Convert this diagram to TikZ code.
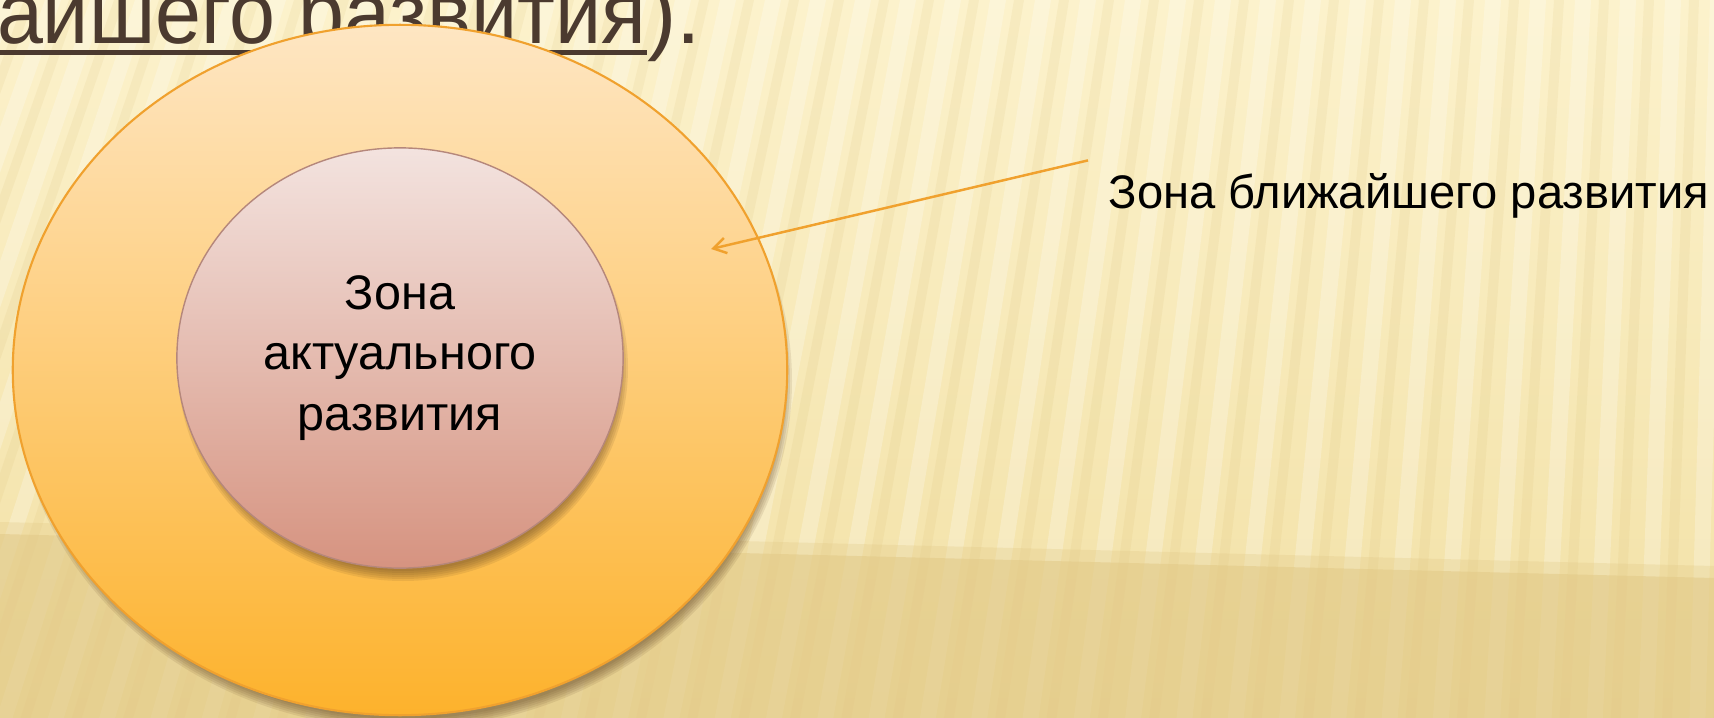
\documentclass[tikz,border=0pt]{standalone}
\usepackage{fontspec}
\setmainfont{Liberation Sans}
\usetikzlibrary{shapes.geometric,arrows.meta,positioning}

\definecolor{bgtop}{HTML}{FCF2CC}
\definecolor{bgmid}{HTML}{F2E0A4}
\definecolor{bgfloor}{HTML}{E2C987}
\definecolor{stripedark}{HTML}{C9A650}
\definecolor{titlebrown}{HTML}{4B3A2F}
\definecolor{nearline}{HTML}{F0A12E}
\definecolor{neartop}{HTML}{FEE6C3}
\definecolor{nearbottom}{HTML}{FDB22C}
\definecolor{actualline}{HTML}{B5877B}
\definecolor{actualtop}{HTML}{F3E3DF}
\definecolor{actualbottom}{HTML}{D69380}
\definecolor{shadowbrown}{HTML}{5E4020}

\begin{document}
\begin{tikzpicture}[x=0.01cm,y=-0.01cm,
	zone/.style={ellipse,draw,inner sep=0pt,align=center,text=black,
		font=\fontsize{13.8}{17.1}\selectfont},
	titletext/.style={text=titlebrown,inner sep=0pt,font=\fontsize{25}{30}\selectfont},
	titleline/.style={titlebrown,line width=1.4pt},
	labeltext/.style={inner sep=0pt,font=\fontsize{13.4}{16.5}\selectfont},
	pointer/.style={nearline,line width=0.7pt,-{Straight Barb[length=3.6pt,width=4.4pt]}},
	softshadow/.style={fill=shadowbrown,opacity=0.11}]

	\useasboundingbox (0,0) rectangle (1714,718);
	\clip (0,0) rectangle (1714,718);

	% background
	\shade[top color=bgtop,bottom color=bgmid] (0,0) rectangle (1714,718);
	\foreach \sx in {0,45,...,2100} {
		\pgfmathsetmacro{\sb}{\sx-20-0.14*(1714-\sx)}
		\fill[white,opacity=0.24] (\sx,0) -- (\sx+16,0) -- (\sb+16,718) -- (\sb,718) -- cycle;
		\fill[stripedark,opacity=0.09] (\sx+24,0) -- (\sx+34,0) -- (\sb+34,718) -- (\sb+24,718) -- cycle;
	}
	\fill[bgfloor,opacity=0.3] (0,522) -- (1714,566) -- (1714,718) -- (0,718) -- cycle;
	\fill[bgfloor,opacity=0.55] (0,534) -- (1714,578) -- (1714,718) -- (0,718) -- cycle;

	% title, cut by the page
	\node[titletext,anchor=base east] (title) at (647,44) {\scalebox{0.94}[1]{ближайшего развития}};
	\node[titletext,anchor=base west] (titleend) at (title.base east) {).};
	\draw[titleline] ([shift={(0,8.5)}]title.base west) -- ([shift={(0,8.5)}]title.base east);

	% zones
	\foreach \s in {0,...,5}
		\fill[softshadow] (404,381) ellipse [x radius=378+2*\s, y radius=338+2*\s];
	\node[zone,draw=nearline,line width=0.6pt,top color=neartop,bottom color=nearbottom,
		minimum width=7.74cm,minimum height=6.9cm] (near) at (400,370) {};
	\foreach \s in {0,...,5}
		\fill[softshadow] (403,368) ellipse [x radius=215+2*\s, y radius=203+2*\s];
	\node[zone,draw=actualline,line width=0.4pt,top color=actualtop,bottom color=actualbottom,
		minimum width=4.46cm,minimum height=4.2cm] (actual) at (400,358) {Зона\\актуального\\развития};

	\node[labeltext,anchor=base west] (nearlabel) at (1108,208) {Зона ближайшего развития};
	\coordinate (pointend) at (711,249);
	\draw[pointer] ([shift={(-20,-35)}]nearlabel.west) -- (pointend);

\end{tikzpicture}
\end{document}
